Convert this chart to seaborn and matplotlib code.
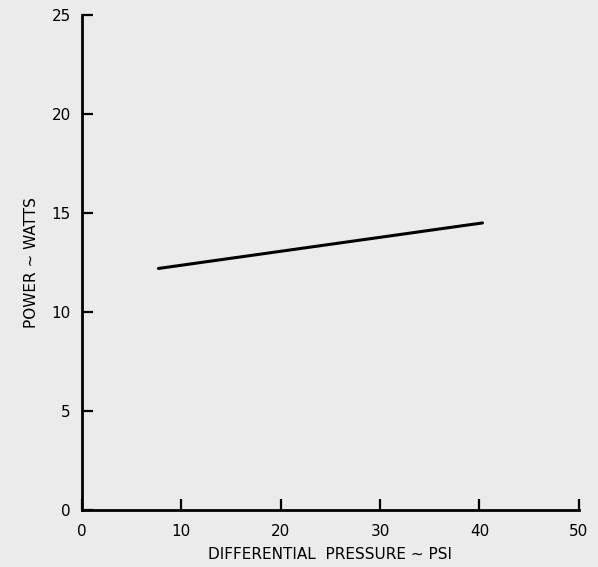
import numpy as np
import pandas as pd
import matplotlib
matplotlib.use("Agg")
import matplotlib.pyplot as plt
import seaborn as sns

# values
pressure_psi = [7.7, 40.3]
power_watts = [12.2, 14.5]

x_ticks = [0, 10, 20, 30, 40, 50]
y_ticks = [0, 5, 10, 15, 20, 25]

df = pd.DataFrame({"Pressure": pressure_psi, "Power": power_watts})

sns.set_theme(style="ticks")
plt.rcParams["font.family"] = ["DejaVu Sans"]
bg = "#ebebeb"

fig = plt.figure(figsize=(5.98, 5.67), dpi=100, facecolor=bg)
ax = fig.add_axes([0.137, 0.1005, 0.831, 0.873], facecolor=bg)

sns.lineplot(data=df, x="Pressure", y="Power", color="black", linewidth=2.2, ax=ax)

ax.set_xlim(0, 50)
ax.set_ylim(0, 25)
ax.set_xticks(x_ticks)
ax.set_yticks(y_ticks)
ax.set_xticklabels([str(t) for t in x_ticks], fontsize=11, color="black")
ax.set_yticklabels([str(t) for t in y_ticks], fontsize=11, color="black")
ax.tick_params(direction="in", length=8, width=1.6, colors="black", pad=10)
ax.tick_params(axis="y", pad=8)

for s in ["top", "right"]:
    ax.spines[s].set_visible(False)
for s in ["left", "bottom"]:
    ax.spines[s].set_linewidth(2)
    ax.spines[s].set_color("black")

ax.set_xlabel("DIFFERENTIAL  PRESSURE ~ PSI", fontsize=11, color="black", labelpad=6)
ax.set_ylabel("POWER ~ WATTS", fontsize=11, color="black", labelpad=9)

fig.savefig("out.png", dpi=100, facecolor=bg)
